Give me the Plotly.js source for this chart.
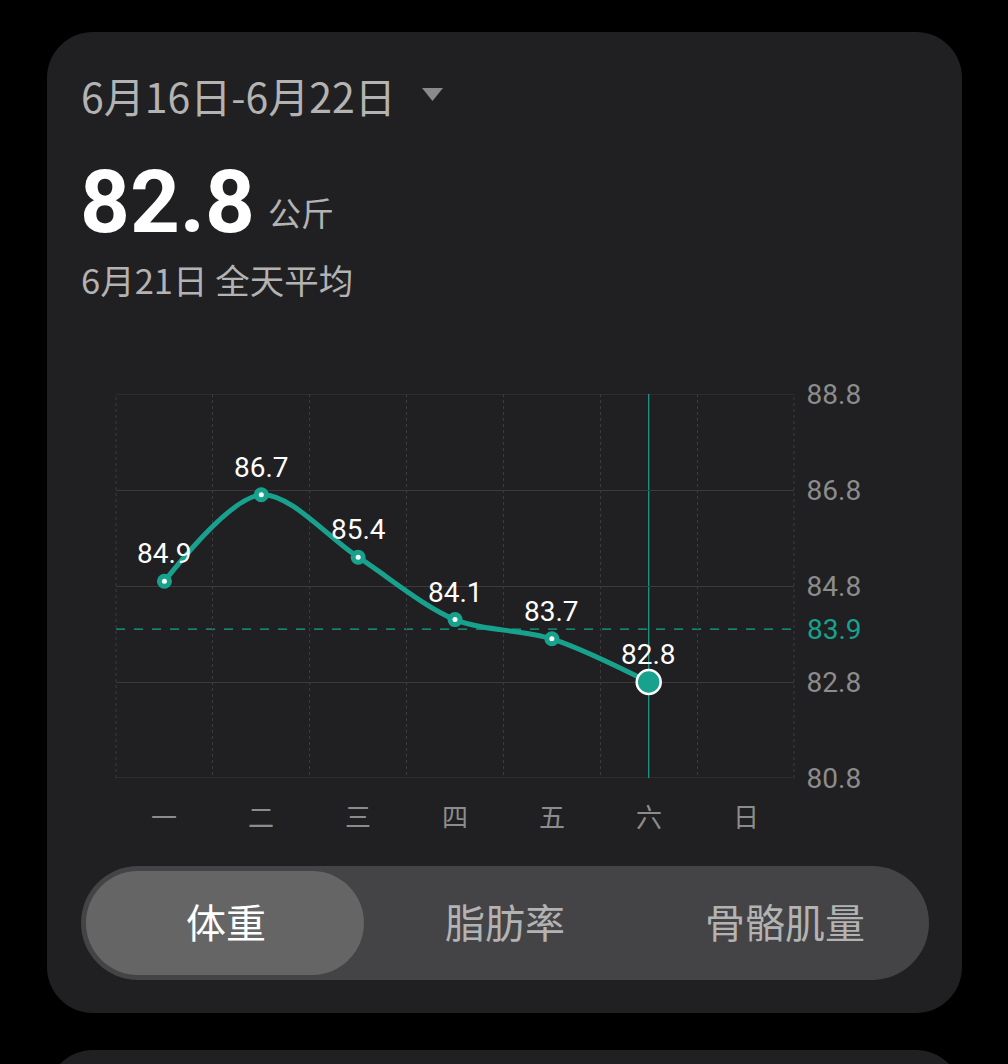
<!DOCTYPE html>
<html><head><meta charset="utf-8">
<script src="https://cdn.plot.ly/plotly-3.0.1.min.js"></script>
<style>html,body{margin:0;padding:0;background:#000;}#chart{width:1008px;height:1064px;}</style>
</head><body><div id="chart"></div>
<script>
// ---- data ----
const days = ['一','二','三','四','五','六','日'];
const weightDays = ['一','二','三','四','五','六'];
const weights = [84.9, 86.7, 85.4, 84.1, 83.7, 82.8];
const yTicks = [80.8, 82.8, 84.8, 86.8, 88.8];
const average = 83.9;
const selectedDay = '六';
const selectedWeight = 82.8;
const dateRange = '6月16日-6月22日';
const dayLabel = '6月21日 全天平均';
const unit = '公斤';
const tabs = ['体重','脂肪率','骨骼肌量'];

// ---- layout helpers (pixel -> paper) ----
const W = 1008, H = 1064;
const L = 116, R = 794, T = 394, B = 778;
const px = x => (x - L) / (R - L);
const py = y => (B - y) / (B - T);
function rrect(x0, y0, x1, y1, r) {
  const k = 0.5523 * r;
  const P = (x, y) => px(x) + ',' + py(y);
  return 'M' + P(x0 + r, y0) + ' L' + P(x1 - r, y0) +
    ' C' + P(x1 - r + k, y0) + ' ' + P(x1, y0 + r - k) + ' ' + P(x1, y0 + r) +
    ' L' + P(x1, y1 - r) +
    ' C' + P(x1, y1 - r + k) + ' ' + P(x1 - r + k, y1) + ' ' + P(x1 - r, y1) +
    ' L' + P(x0 + r, y1) +
    ' C' + P(x0 + r - k, y1) + ' ' + P(x0, y1 - r + k) + ' ' + P(x0, y1 - r) +
    ' L' + P(x0, y0 + r) +
    ' C' + P(x0, y0 + r - k) + ' ' + P(x0 + r - k, y0) + ' ' + P(x0 + r, y0) + ' Z';
}
const teal = '#18a28e';
const grid = '#3b3b3d';
const CJK = '"Noto Sans CJK SC", "Noto Sans", sans-serif';
const NUM = 'Roboto, "Noto Sans", sans-serif';

const shapes = [
  {type:'path', xref:'paper', yref:'paper', layer:'below', path: rrect(47, 32, 962, 1013, 46), fillcolor:'#202022', line:{width:0}},
  {type:'path', xref:'paper', yref:'paper', layer:'below', path: rrect(47, 1050, 962, 1140, 46), fillcolor:'#202022', line:{width:0}},
  {type:'path', xref:'paper', yref:'paper', layer:'below', path: rrect(81, 866, 929, 980, 57), fillcolor:'#444446', line:{width:0}},
  {type:'path', xref:'paper', yref:'paper', layer:'below', path: rrect(86, 871, 364, 975, 52), fillcolor:'#656565', line:{width:0}},
  {type:'path', xref:'paper', yref:'paper', layer:'below', path: 'M' + px(422) + ',' + py(88) + ' L' + px(443) + ',' + py(88) + ' L' + px(432.5) + ',' + py(101) + ' Z', fillcolor:'#8a8a8a', line:{width:0}},
  // frame lines at range edges (gridlines are not drawn there)
  {type:'line', xref:'paper', yref:'y', x0:0, x1:1, y0:yTicks[0], y1:yTicks[0], line:{color:grid, width:1}, layer:'below'},
  {type:'line', xref:'paper', yref:'y', x0:0, x1:1, y0:yTicks[yTicks.length-1], y1:yTicks[yTicks.length-1], line:{color:grid, width:1}, layer:'below'},
  {type:'line', xref:'paper', yref:'paper', x0:0, x1:0, y0:0, y1:1, line:{color:grid, width:1, dash:'dot'}, layer:'below'},
  {type:'line', xref:'paper', yref:'paper', x0:1, x1:1, y0:0, y1:1, line:{color:grid, width:1, dash:'dot'}, layer:'below'},
  // average dashed line
  {type:'line', xref:'paper', yref:'y', x0:0, x1:1, y0:average, y1:average, line:{color:teal, width:1.3, dash:'dash'}, layer:'below'},
  // selected day vertical line
  {type:'line', xref:'x', yref:'paper', x0:selectedDay, x1:selectedDay, y0:0, y1:1, line:{color:teal, width:1.2}, layer:'below'}
];

const annotations = [
  {xref:'paper', yref:'paper', x:px(79), y:py(95), xanchor:'left', yanchor:'middle', showarrow:false, text:dateRange, font:{family:CJK, size:41, color:'#b3b3b3'}},
  {xref:'paper', yref:'paper', x:px(78), y:py(202), xanchor:'left', yanchor:'middle', showarrow:false, text:'<b>' + selectedWeight.toFixed(1) + '</b>', font:{family:NUM, size:87, color:'#ffffff'}},
  {xref:'paper', yref:'paper', x:px(266), y:py(212), xanchor:'left', yanchor:'middle', showarrow:false, text:unit, font:{family:CJK, size:33, color:'#b3b3b3'}},
  {xref:'paper', yref:'paper', x:px(79), y:py(279), xanchor:'left', yanchor:'middle', showarrow:false, text:dayLabel, font:{family:CJK, size:34.5, color:'#b3b3b3'}},
  {xref:'paper', yref:'y', x:px(805), y:average, xanchor:'left', yanchor:'middle', showarrow:false, text:average.toFixed(1), font:{family:NUM, size:28, color:teal}},
  {xref:'paper', yref:'paper', x:px(226), y:py(921), xanchor:'center', yanchor:'middle', showarrow:false, text:tabs[0], font:{family:CJK, size:40, color:'#ffffff'}},
  {xref:'paper', yref:'paper', x:px(505), y:py(921), xanchor:'center', yanchor:'middle', showarrow:false, text:tabs[1], font:{family:CJK, size:40, color:'#b3b3b3'}},
  {xref:'paper', yref:'paper', x:px(785), y:py(921), xanchor:'center', yanchor:'middle', showarrow:false, text:tabs[2], font:{family:CJK, size:40, color:'#b3b3b3'}}
];
weightDays.forEach((d, i) => {
  annotations.push({xref:'x', yref:'y', x:d, y:weights[i], xanchor:'center', yanchor:'bottom', yshift:9, showarrow:false,
    text: weights[i].toFixed(1), font:{family:NUM, size:28, color:'#ffffff'}});
});
// x-axis day labels (placed below the plot)
days.forEach(d => {
  annotations.push({xref:'x', yref:'paper', x:d, y:py(815), xanchor:'center', yanchor:'middle', showarrow:false,
    text: d, font:{family:CJK, size:26, color:'#8c8c8c'}});
});

const traces = [
  {x: weightDays, y: weights, type:'scatter', mode:'lines+markers', line:{color:teal, width:5, shape:'spline', smoothing:0.9},
   marker:{color:teal, size:15}, hoverinfo:'skip'},
  {x: weightDays.slice(0, -1), y: weights.slice(0, -1), type:'scatter', mode:'markers', marker:{color:'#ffffff', size:5}, hoverinfo:'skip'},
  {x: [selectedDay], y: [selectedWeight], type:'scatter', mode:'markers', marker:{color:teal, size:24, line:{color:'#ffffff', width:2.5}}, hoverinfo:'skip'}
];

const layout = {
  width: W, height: H, showlegend:false,
  paper_bgcolor:'#000000', plot_bgcolor:'rgba(0,0,0,0)',
  margin:{l:L, r:W - R, t:T, b:H - B, pad:0},
  xaxis:{type:'category', categoryorder:'array', categoryarray:days, range:[-0.5, 6.5], tickson:'boundaries',
    showgrid:true, gridcolor:grid, griddash:'dot', gridwidth:1, zeroline:false, showline:false,
    showticklabels:false, ticks:'', fixedrange:true},
  yaxis:{side:'right', range:[80.8, 88.8], tickvals:yTicks, ticktext:yTicks.map(v => v.toFixed(1)),
    showgrid:true, gridcolor:grid, gridwidth:1, zeroline:false, showline:false,
    ticks:'outside', ticklen:6, tickcolor:'rgba(0,0,0,0)', tickfont:{family:NUM, size:28, color:'#8c8c8c'}, fixedrange:true},
  shapes, annotations
};
Plotly.newPlot('chart', traces, layout, {displayModeBar:false, staticPlot:true});
</script></body></html>
